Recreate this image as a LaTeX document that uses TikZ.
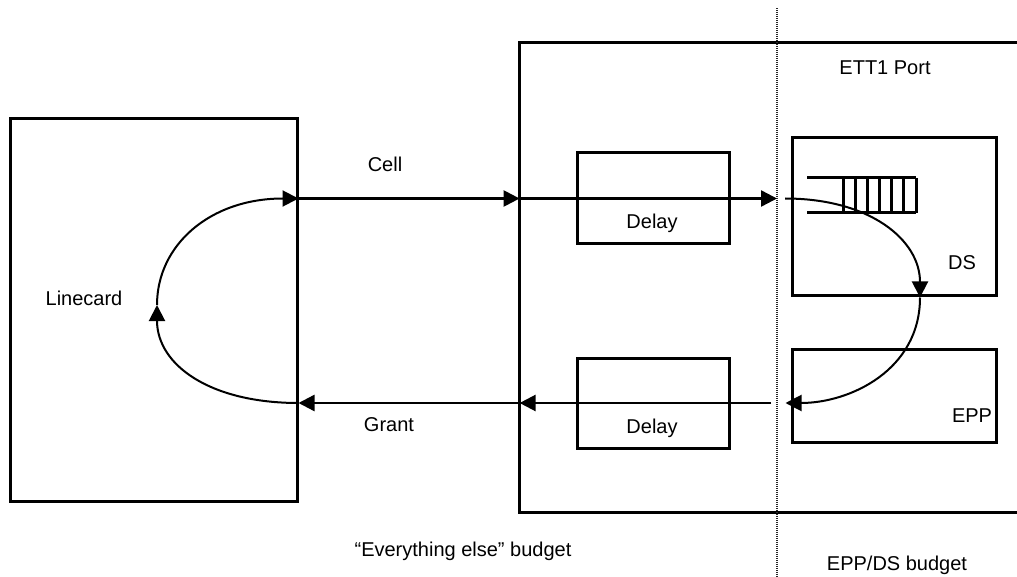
\documentclass[tikz,border=0pt]{standalone}
\usepackage{fontspec}
\setmainfont{Liberation Sans}
\usetikzlibrary{positioning,calc}
\usetikzlibrary{arrows.meta}
\tikzset{
  blk/.style={draw=black,line width=1.5pt,inner sep=0pt},
  lbl/.style={inner sep=0pt,font=\fontsize{10}{12}\selectfont},
  flow/.style={draw=black,line width=1.2pt,-{Triangle[length=8pt,width=8pt]}},
  curveflow/.style={draw=black,line width=1pt,-{Triangle[length=8pt,width=8pt]}},
}
\tikzset{divider/.style={draw=black!85,line width=1.2pt,dash pattern=on 0.6pt off 0.4pt}}

\begin{document}
\begin{tikzpicture}[x=0.5pt,y=-0.5pt]
\useasboundingbox (0,0) rectangle (1017,577);
\node[blk,minimum width=143.5pt,minimum height=191pt] (lc) at (153.5,310) {};
\node[inner sep=0pt,minimum width=248.5pt,minimum height=234.5pt] (port) at (768.5,277.5) {};
\draw[blk] (port.north east) -- (port.north west) -- (port.south west) -- (port.south east);
\node[blk,minimum width=76pt,minimum height=45.5pt] (dlyA) at (653,198.5) {};
\node[blk,minimum width=76pt,minimum height=45pt] (dlyB) at (653,403) {};
\node[blk,minimum width=102pt,minimum height=79pt] (ds) at (894,217) {};
\node[blk,minimum width=102pt,minimum height=46.5pt] (epp) at (894,395.5) {};
% queue in DS
\draw[blk] (807,178) -- (916,178) (807,213) -- (916,213);
\foreach \qx in {843,855,867,879,891,903,916}
  \draw[blk] (\qx,178) -- (\qx,213);
% budget divider
\coordinate (divtop) at (777,8);
\coordinate (divbot) at (777,577);
\draw[divider] (divtop) -- (divbot);
% cell path
\coordinate (dsdrop) at ($(ds.south)+(26,0)$);
\coordinate (loopl) at (157,305);
\draw[flow] (lc.east |- dlyA.west) -- (port.west |- dlyA.west);
\draw[flow] (port.west |- dlyA.west) -- (divtop |- dlyA.west);
\draw[curveflow] ($(divtop |- dlyA.west)+(8,0)$) .. controls (870,198.5) and (920,240) .. (dsdrop);
\draw[curveflow] (dsdrop) .. controls (920,370) and (850,403) .. ($(epp.west |- dlyB.east)+(-5,0)$);
% grant path
\draw[flow] ($(divtop |- dlyB.east)+(-6,0)$) -- (port.west |- dlyB.east);
\draw[flow] (port.west |- dlyB.east) -- (lc.east |- dlyB.east);
\draw[curveflow] (lc.east |- dlyB.east) .. controls (210,403) and (157,365) .. (loopl);
\draw[curveflow] (loopl) .. controls (157,245) and (210,198.5) .. (lc.east |- dlyA.west);
% labels
\node[lbl] (lcl) at (84,298) {Linecard};
\node[lbl] (celll) at (385,164) {Cell};
\node[lbl] (grantl) at (389,425) {Grant};
\node[lbl] (dlyAl) at (652,223) {Delay};
\node[lbl] (dlyBl) at (652,428) {Delay};
\node[lbl] (dsl) at (962,263) {DS};
\node[lbl] (eppl) at (972,416) {EPP};
\node[lbl] (portl) at (885,68) {ETT1 Port};
\node[lbl] (elsel) at (463,551) {“Everything else” budget};
\node[lbl] (eppdsl) at (897,565) {EPP/DS budget};
\end{tikzpicture}
\end{document}
